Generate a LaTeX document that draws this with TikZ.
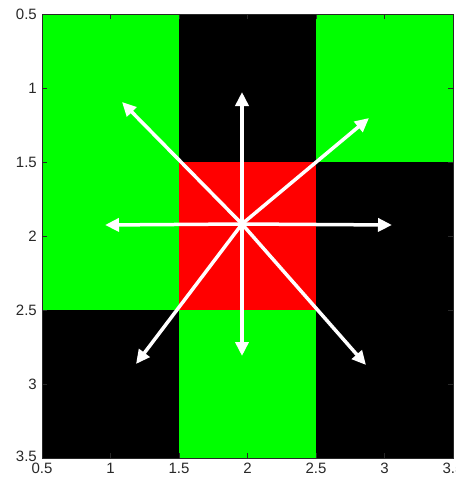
\documentclass[tikz,border=0pt]{standalone}
\usepackage{fontspec}
\setmainfont{Liberation Sans}
\usetikzlibrary{arrows.meta}
\definecolor{mgreen}{RGB}{0,255,0}
\definecolor{mred}{RGB}{255,0,0}
\definecolor{axgray}{RGB}{40,40,40}
\begin{document}
\begin{tikzpicture}[x=1pt,y=-1pt,
  cellg/.style={fill=mgreen},
  cellr/.style={fill=mred},
  cellk/.style={fill=black},
  warrow/.style={draw=white,line width=3.5pt,-{Triangle[length=14pt,width=13pt]}},
  ylab/.style={anchor=east,font=\fontsize{15}{15}\selectfont,text=axgray,inner sep=0pt},
  xlab/.style={anchor=center,font=\fontsize{15}{15}\selectfont,text=axgray,inner sep=0pt},
  tick/.style={draw=axgray,line width=0.7pt}]
\useasboundingbox (0,0) rectangle (456,483);
\fill[white] (0,0) rectangle (456,483);
% cells: columns 42,179,316,453 ; rows 14,162,310,458
\fill[cellg] (42,14) rectangle (179,162);
\fill[cellk] (179,14) rectangle (316,162);
\fill[cellg] (316,14) rectangle (453,162);
\fill[cellg] (42,162) rectangle (179,310);
\fill[cellr] (179,162) rectangle (316,310);
\fill[cellk] (316,162) rectangle (453,310);
\fill[cellk] (42,310) rectangle (179,458);
\fill[cellg] (179,310) rectangle (316,458);
\fill[cellk] (316,310) rectangle (453,458);
% ticks
\foreach \t in {110.5,179,247.5,316,384.5}{
  \draw[tick] (\t,14) -- (\t,19);
  \draw[tick] (\t,458) -- (\t,453);
}
\foreach \t in {88,162,236,310,384}{
  \draw[tick] (42,\t) -- (47,\t);
  \draw[tick] (453,\t) -- (448,\t);
}
\draw[axgray,line width=0.8pt] (42,14) rectangle (453,458);
% labels
\node[ylab] (y05) at (37,14) {0.5};
\node[ylab] (y10) at (37,88) {1};
\node[ylab] (y15) at (37,162) {1.5};
\node[ylab] (y20) at (37,236) {2};
\node[ylab] (y25) at (37,310) {2.5};
\node[ylab] (y30) at (37,384) {3};
\node[ylab] (y35) at (37,456) {3.5};
\node[xlab] (x05) at (42,468) {0.5};
\node[xlab] (x10) at (110.5,468) {1};
\node[xlab] (x15) at (179,468) {1.5};
\node[xlab] (x20) at (247.5,468) {2};
\node[xlab] (x25) at (316,468) {2.5};
\node[xlab] (x30) at (384.5,468) {3};
\node[xlab] (x35) at (453,468) {3.5};
% arrows
\coordinate (c) at (242,224);
\coordinate (tu) at (242,92);
\coordinate (td) at (242,356);
\coordinate (tl) at (105,225);
\coordinate (tr) at (392,225);
\coordinate (tul) at (122,102);
\coordinate (tur) at (369,118);
\coordinate (tdl) at (136,364);
\coordinate (tdr) at (366,365);
\foreach \e in {tu,td,tl,tr,tul,tur,tdl,tdr}{
  \draw[warrow] (c) -- (\e);
}
\end{tikzpicture}
\end{document}
